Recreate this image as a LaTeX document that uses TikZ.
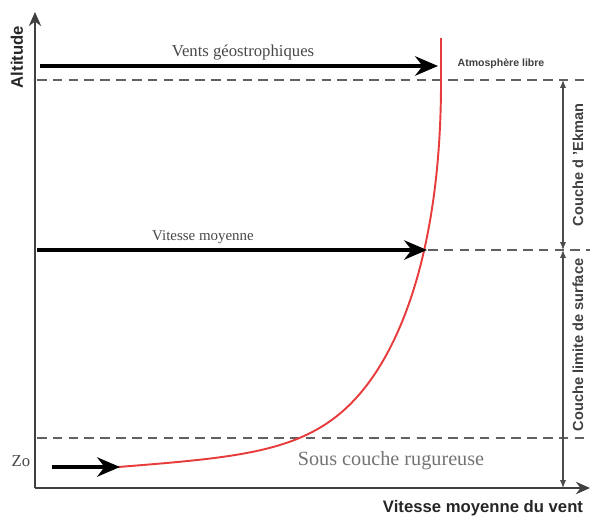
\documentclass[tikz,border=0pt]{standalone}
\usepackage{fontspec}
\setmainfont{Liberation Serif}
\setsansfont{Liberation Sans}
\usetikzlibrary{arrows.meta,positioning}
\definecolor{rouge}{RGB}{232,60,60}
\tikzset{
  axe/.style={draw=black!75, line width=1.4pt, -{Stealth[length=8pt,width=7pt]}},
  niveau/.style={draw=black!62, line width=1.6pt, dash pattern=on 5.5pt off 3.5pt},
  fleche/.style={draw=black, line width=2pt, -{Stealth[length=13pt,width=11pt]}},
  cote/.style={draw=black!70, line width=0.6pt, {Latex[length=4.5pt,width=3.5pt]}-{Latex[length=4.5pt,width=3.5pt]}},
  profil/.style={draw=rouge, line width=1.1pt},
  titre/.style={font=\sffamily\bfseries\fontsize{9.5}{11}\selectfont, text=black!85},
  legende/.style={font=\fontsize{9.5}{11}\selectfont, text=black!72},
  couche/.style={font=\sffamily\bfseries\fontsize{8.3}{10}\selectfont, text=black!75, rotate=90},
}
\begin{document}
\begin{tikzpicture}[x=0.02cm,y=-0.02cm]
\useasboundingbox (0,0) rectangle (590,521);
% axes
\coordinate (O) at (35,488);
\coordinate (ytop) at (35,12);
\coordinate (xend) at (590,488);
\draw[axe] (O) -- (ytop);
\draw[axe] (O) -- (xend);
\node[titre, rotate=90] (altitude) at (17,57) {Altitude};
\node[titre] (vitesse) at (483,508) {Vitesse moyenne du vent};

% niveaux
\coordinate (g1) at (37,80);
\coordinate (g2) at (590,80);
\coordinate (m1) at (428,250);
\coordinate (m2) at (590,250);
\coordinate (r1) at (37,438);
\coordinate (r2) at (590,438);
\draw[niveau] (g1) -- (g2);
\draw[niveau] (m1) -- (m2);
\draw[niveau] (r1) -- (r2);

% profil du vent
\coordinate (p0) at (118,467);
\coordinate (p1) at (363,390);
\coordinate (p2) at (441,82);
\coordinate (p3) at (441,38);
\draw[profil] (p0) .. controls (248,456.6) and (313,451.5) .. (p1)
  .. controls (408,334.6) and (441,232) .. (p2) -- (p3);

% vents
\coordinate (a1) at (40,66);
\coordinate (a2) at (438,66);
\coordinate (b1) at (37,250);
\coordinate (b2) at (427,250);
\coordinate (c1) at (52,467);
\coordinate (c2) at (120,467);
\draw[fleche] (a1) -- (a2);
\draw[fleche] (b1) -- (b2);
\draw[fleche] (c1) -- (c2);
\node[legende] (geo) at (243,52) {Vents géostrophiques};
\node[legende, font=\fontsize{8.5}{10}\selectfont] (moyenne) at (203,237) {Vitesse moyenne};
\node[legende] (zo) at (21,461) {Zo};
\node[legende, text=black!55, font=\fontsize{11.5}{13}\selectfont] (rugueuse) at (391,461) {Sous couche rugureuse};
\node[font=\sffamily\bfseries\fontsize{6}{7}\selectfont, text=black!75] (libre) at (501,64) {Atmosphère libre};

% couches
\coordinate (d1) at (563,80);
\coordinate (d2) at (563,250);
\coordinate (d3) at (563,488);
\draw[cote] (d1) -- (d2);
\draw[cote] (d2) -- (d3);
\node[couche] (ekman) at (578,165) {Couche d 'Ekman};
\node[couche] (surface) at (578,345) {Couche limite de surface};
\end{tikzpicture}
\end{document}
